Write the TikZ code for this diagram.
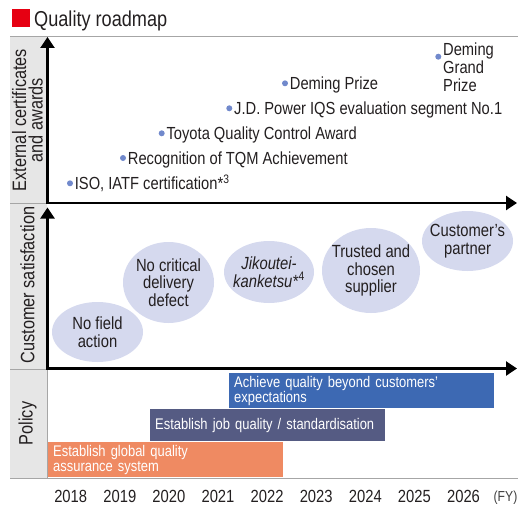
\documentclass[tikz,border=0pt]{standalone}
\usepackage{fontspec}
\setmainfont{Liberation Sans}[FakeStretch=0.84]
\usetikzlibrary{arrows.meta,shapes.geometric,positioning}
\definecolor{titlered}{HTML}{E60012}
\definecolor{rulegray}{HTML}{A6A6A6}
\definecolor{colgray}{HTML}{E6E6E6}
\definecolor{dotblue}{HTML}{7189CC}
\definecolor{goalfill}{HTML}{D5D9EE}
\definecolor{barorange}{HTML}{EF8A62}
\definecolor{barslate}{HTML}{555B83}
\definecolor{barblue}{HTML}{3D69B3}
\definecolor{inkblack}{HTML}{231F20}

\begin{document}
\begin{tikzpicture}[x=1pt,y=-1pt,
  axis/.style={line width=2.4pt,line cap=rect,-{Triangle[length=11pt,width=14pt]}},
  sep/.style={rulegray,line width=0.8pt},
  dot/.style={circle,fill=dotblue,inner sep=0pt,minimum size=6pt},
  award/.style={font=\fontsize{17.5}{17.8}\selectfont,text=inkblack,inner sep=0pt,text height=12.5pt,text depth=0pt},
  goal/.style={ellipse,fill=goalfill,inner sep=0pt},
  goaltext/.style={font=\fontsize{17.6}{17.6}\selectfont,text=inkblack,align=center,inner sep=0pt},
  bar/.style={anchor=north west,inner xsep=5pt,inner ysep=0pt,text=white,align=left,font=\fontsize{15.4}{15}\selectfont},
  collabel/.style={rotate=90,align=center,inner sep=0pt,text=inkblack,font=\fontsize{19.4}{16.5}\selectfont},
  year/.style={anchor=base,text=inkblack,font=\fontsize{17.6}{17.6}\selectfont}]
\useasboundingbox (0,0) rectangle (518,505);

% title
\node[fill=titlered,minimum size=17.5pt,inner sep=0pt] (redbox) at (20.8,18) {};
\node[anchor=west,inner sep=0pt,text=inkblack,font=\fontsize{21.6}{21.6}\selectfont,text height=14pt,text depth=0pt] (title) at (34,19.7) {Quality roadmap};

% label column
\fill[colgray] (10,36) rectangle (47,478);
\draw[sep] (10,36) -- (518,36);
\draw[sep] (10,203) -- (47,203);
\draw[sep] (10,369) -- (47,369);
\draw[sep] (47,369) -- (47,478);
\draw[sep] (10,478) -- (518,478);
\node[collabel] (extlabel) at (27.5,120) {External certificates\\and awards};
\node[collabel] (cslabel) at (27.5,285) {Customer satisfaction};
\node[collabel] (policylabel) at (27.5,423.5) {Policy};

% axes
\coordinate (o1) at (47.5,203);
\coordinate (y1) at (47.5,37);
\coordinate (x1) at (517,203);
\coordinate (o2) at (47.5,368.5);
\coordinate (y2) at (47.5,207.5);
\coordinate (x2) at (517,368.5);
\draw[axis] (o1) -- (y1);
\draw[axis] (o1) -- (x1);
\draw[axis] (o2) -- (y2);
\draw[axis] (o2) -- (x2);

% certificates and awards
\node[dot] (iso) at (70,183.3) {};
\node[award,right=1.5pt of iso] (isotext) {ISO, IATF certification*\textsuperscript{3}};
\node[dot] (tqm) at (123,158) {};
\node[award,right=1.5pt of tqm] (tqmtext) {Recognition of TQM Achievement};
\node[dot] (toyota) at (161.7,133.3) {};
\node[award,right=1.5pt of toyota] (toyotatext) {Toyota Quality Control Award};
\node[dot] (jdpower) at (229.3,108.3) {};
\node[award,right=1.5pt of jdpower] (jdpowertext) {J.D. Power IQS evaluation segment No.1};
\node[dot] (deming) at (285,83.3) {};
\node[award,right=1.5pt of deming] (demingtext) {Deming Prize};
\node[dot] (grand) at (438.3,56.7) {};
\node[award,anchor=west,align=left,text height=,text depth=] (grandtext) at (443,67.2) {Deming\\Grand\\Prize};

% customer satisfaction
\node[goal,minimum width=91pt,minimum height=60pt,label={[goaltext]center:No field\\action}] (nofield) at (97.5,332) {};
\node[goal,minimum width=91pt,minimum height=81pt,label={[goaltext]center:No critical\\delivery\\defect}] (nodefect) at (168.5,282.5) {};
\node[goal,minimum width=90pt,minimum height=62pt,label={[goaltext]center:\textit{Jikoutei-}\\\textit{kanketsu*}\textsuperscript{4}}] (jikoutei) at (269,272) {};
\node[goal,minimum width=98pt,minimum height=85pt,label={[goaltext]center:Trusted and\\chosen\\supplier}] (trusted) at (371,270.5) {};
\node[goal,minimum width=91pt,minimum height=60pt,label={[goaltext]center:Customer’s\\partner}] (partner) at (467.5,241) {};

% policy
\node[bar,fill=barorange,text width=225pt,minimum height=35pt] (globalqa) at (48,442) {Establish global quality\\assurance system};
\node[bar,fill=barslate,text width=225pt,minimum height=32pt] (jobquality) at (150,409) {Establish job quality / standardisation};
\node[bar,fill=barblue,text width=255pt,minimum height=35pt] (beyond) at (229,373) {Achieve quality beyond customers’\\expectations};

% fiscal years
\foreach \yr [count=\i from 0] in {2018,...,2026}
  \node[year] (fy\yr) at (70.7+49.1*\i,502) {\yr};
\node[year,text=darkgray,font=\fontsize{14.5}{14.5}\selectfont] (fy) at (505.5,501.5) {(FY)};
\end{tikzpicture}
\end{document}
